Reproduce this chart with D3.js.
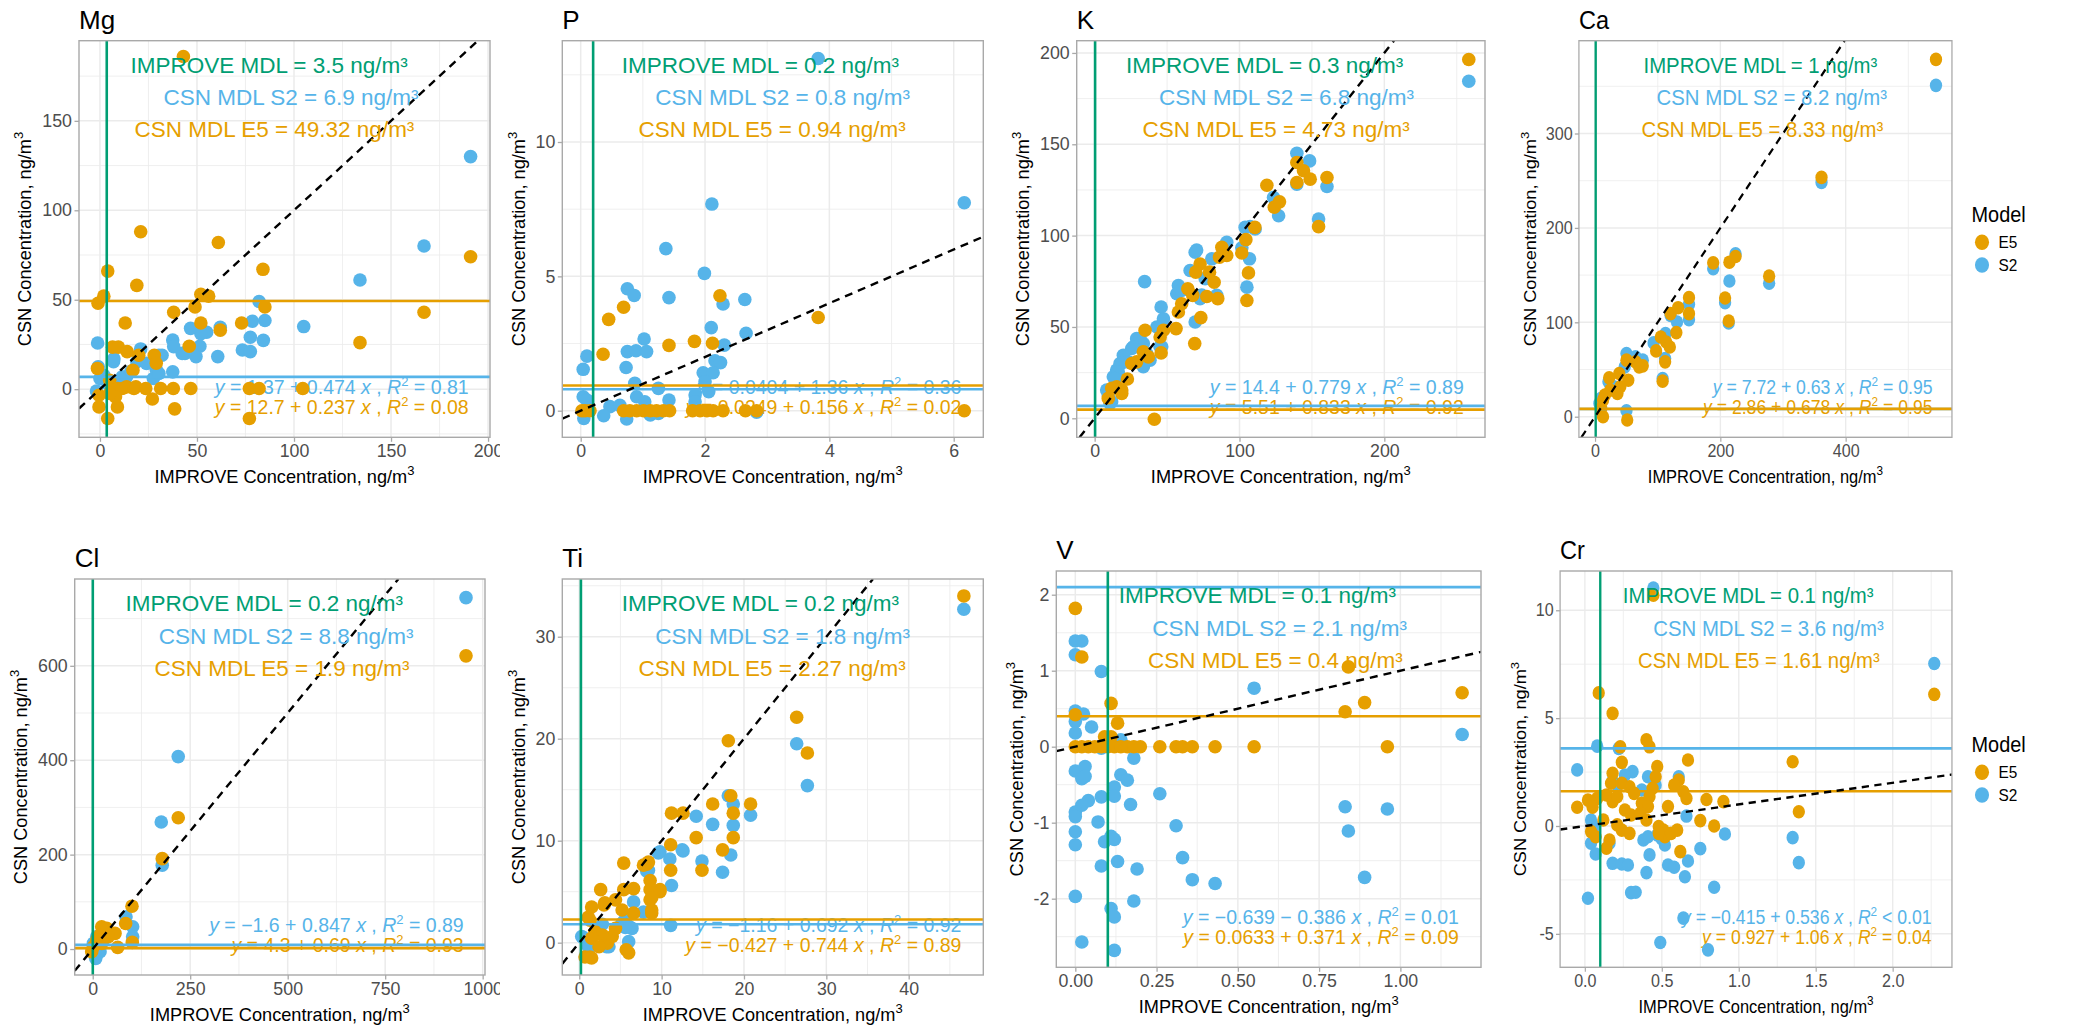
<!DOCTYPE html>
<html>
<head>
<meta charset="utf-8">
<script src="https://cdn.jsdelivr.net/npm/d3@7"></script>
<style>
  body { margin: 0; background: #ffffff; }
  svg { display: block; }
  text { font-family: "Liberation Sans", Arial, Helvetica, sans-serif; }
</style>
</head>
<body>
<svg id="chart" width="2092" height="1025"></svg>
<script>
// ---------------- data ----------------
const elements = ["Mg", "P", "K", "Ca", "Cl", "Ti", "V", "Cr"];
const models = ["E5", "S2"];

// method detection limits, ng/m3
const improveMdl = [3.5, 0.2, 0.3, 1, 0.2, 0.2, 0.1, 0.1];
const s2Mdl = [6.9, 0.8, 6.8, 8.2, 8.8, 1.8, 2.1, 3.6];
const e5Mdl = [49.32, 0.94, 4.73, 8.33, 1.9, 2.27, 0.4, 1.61];

// fitted lines, printed as y = a + b x
const s2Intercept = [1.37, 0.0404, 14.4, 7.72, -1.6, -1.16, -0.639, -0.415];
const s2Slope = [0.474, 1.36, 0.779, 0.63, 0.847, 0.692, -0.386, 0.536];
const s2R2 = ["= 0.81", "= 0.36", "= 0.89", "= 0.95", "= 0.89", "= 0.92", "= 0.01", "< 0.01"];
const e5Intercept = [12.7, 0.0249, 5.51, 2.86, 4.3, -0.427, 0.0633, 0.927];
const e5Slope = [0.237, 0.156, 0.833, 0.678, 0.69, 0.744, 0.371, 1.06];
const e5R2 = ["= 0.08", "= 0.02", "= 0.92", "= 0.95", "= 0.93", "= 0.89", "= 0.09", "= 0.04"];

// axis ticks
const xTicks = [
  [0, 50, 100, 150, 200], [0, 2, 4, 6], [0, 100, 200], [0, 200, 400],
  [0, 250, 500, 750, 1000], [0, 10, 20, 30, 40], [0, 0.25, 0.5, 0.75, 1], [0, 0.5, 1, 1.5, 2]
];
const yTicks = [
  [0, 50, 100, 150], [0, 5, 10], [0, 50, 100, 150, 200], [0, 100, 200, 300],
  [0, 200, 400, 600], [0, 10, 20, 30], [-2, -1, 0, 1, 2], [-5, 0, 5, 10]
];
const xTickDigits = [0, 0, 0, 0, 0, 0, 2, 1];

// paired observations [IMPROVE, CSN]
const mgS2 = [[191,130],[167,80],[134,61],[105,35],[82,49],[78.5,38],[85,38.4],[77.5,29],[84.2,27.3],[73.4,21.9],[77.5,21],[60.7,18.2],[62,34.6],[55,31.8],[52,31],[46.7,34],[51.5,24],[49.5,18.2],[43.8,20],[42.4,20],[37.5,27.5],[38,23.8],[32,19],[30.4,19],[37.5,9.7],[27.5,6],[29,11],[30.4,8.8],[-1.2,25.8],[21,22.5],[-0.9,12.5],[7,15.4],[7.2,17],[0,6],[2,7.8],[-1.8,-1],[11.5,6.9],[13.7,6.9],[19,15.4],[24,14.4],[16,10],[4,3],[9,2]];
const mgE5 = [[43,186],[21,88],[61,82],[84,67],[4,66],[19,58],[167,43],[191,74],[134,26],[-1,48],[2,52],[52,53],[56,52],[49,46],[38,43],[85,46],[13,37],[52,37],[62,33],[73,37],[46,24],[6.5,23.5],[9.5,23.5],[14,21],[20,19],[28,19],[29,14.5],[-1.3,11.6],[17,10.6],[5,5],[6.3,0.4],[9,0.4],[11.5,0.4],[13.7,1.3],[17.5,0.4],[18.5,1.3],[23.6,0.4],[31.3,0.4],[37.8,0.4],[46.8,0.4],[77,0.4],[82,0.4],[104.5,0.4],[-0.5,-3.4],[-0.5,-9.9],[9,-9.9],[8,-4.3],[4,-16.4],[27,-5.5],[38.5,-11],[77,-16.4],[5,-2.4]];

const pS2 = [[3.82,13.11],[2.11,7.69],[6.17,7.74],[1.37,6.03],[1.99,5.11],[0.75,4.54],[0.86,4.29],[1.42,4.21],[2.64,4.14],[2.29,3.97],[2.10,3.09],[2.66,2.88],[1.02,2.67],[0.75,2.2],[0.89,2.23],[1.06,2.2],[2.31,2.44],[0.10,2.03],[0.04,1.54],[0.73,1.61],[2.16,1.86],[2.25,1.79],[1.97,1.41],[2.13,1.41],[2.0,1.08],[2.06,0.71],[0.87,1.02],[0.9,0.52],[1.25,0.83],[0.04,0.52],[0.1,0.4],[1.42,0.4],[1.84,0.58],[1.84,0.33],[0.47,0.15],[0.37,-0.19],[0.05,-0.29],[0.74,-0.31],[1.12,-0.16],[2.83,-0.06],[1.03,0.33],[0.63,0.2],[1.25,-0.1]];
const pE5 = [[2.24,4.28],[0.69,3.85],[0.45,3.4],[3.82,3.47],[0.36,2.1],[1.42,2.43],[1.83,2.58],[2.12,2.51],[0.02,0],[0.07,0],[0.15,0],[0.69,0],[0.79,0],[0.9,0],[1.01,0],[1.12,0],[1.22,0],[1.33,0],[1.43,0],[1.8,0],[1.92,0],[2.03,0],[2.13,0],[2.29,0],[2.65,0],[2.83,0],[6.17,0]];

const kS2 = [[258.3,184.5],[139.6,145.1],[148.4,140.9],[139.6,128.2],[160.4,126.9],[154.6,109.1],[127,110.9],[123.5,120.9],[103.9,104.5],[110.8,103.6],[101.6,93.3],[106.9,87.3],[105.1,71.8],[91.2,96.4],[80.9,87.3],[69.4,90.9],[65.9,80.9],[76.3,76.4],[72.8,65.5],[84.3,67.3],[57.8,72.7],[56.7,68.2],[34.5,74.8],[45.9,60.9],[47.5,54.5],[69.4,52.7],[42.9,50],[29,43.6],[25.6,38.2],[33.6,40.9],[35.9,35.5],[38.2,31.8],[33.6,28.2],[46.3,39.1],[19.8,34.5],[17.5,30],[15.2,26.4],[12.9,22.7],[8.3,15.5],[10.6,8.2],[23.3,30.9],[70.4,92.1],[73.9,67.5],[31.3,43.8],[26.7,39.2],[45.1,39.2],[18.6,30.1],[16.3,25.4],[14,21.8],[9.4,12.8],[11.7,9.1],[33.6,29.2],[107.3,104.9],[60,70]];
const kE5 = [[258.3,196.4],[139.6,140],[144.2,135.5],[148.8,130.9],[139.6,129.1],[160.4,131.8],[154.6,104.9],[118.9,127.6],[124,115.5],[127.6,118.5],[104.4,97.8],[110.6,104.5],[101.6,90.5],[106.2,79.6],[105.1,64.5],[87.8,93.6],[91.2,89.1],[86.2,88.2],[72.8,84.5],[69.8,80],[79.3,80],[82.5,74.5],[77.4,66.7],[85,65.5],[64.3,70.9],[67.7,67.3],[73.3,55.1],[60.1,62.7],[57.8,58.2],[56.2,49.1],[69.1,40.9],[34.8,48.2],[47.5,48.2],[45.2,44.5],[33.6,36.4],[37.1,33.6],[45.9,35.8],[25.6,30],[29,30.9],[22.6,21.5],[15.2,17.3],[11.8,16.4],[18.7,15.5],[18.7,13.6],[9.4,10.9],[41.2,-0.5]];

const caS2 = [[544.1,351],[361.4,248.2],[188.5,156.7],[224.2,172.5],[214.4,143.7],[277.8,141.5],[207.5,120.8],[213.3,99.3],[149.9,119],[149.9,102.8],[120.5,107.4],[130.8,100.4],[93.4,78.2],[112.4,88],[111.8,61.6],[107.8,40.5],[50.1,66.9],[64.6,63.4],[76.1,59.9],[21.3,37],[9.8,19.4],[6.9,14.1],[50.1,6.3],[47.3,52.8],[30,31.7]];
const caE5 = [[544.1,378.5],[361.4,253.5],[188.5,163],[214.4,163.7],[224.2,169.7],[277.8,148.9],[207.5,125.7],[213.3,101.4],[149.9,126.1],[149.9,109.2],[120.5,109.2],[132.6,115.5],[129.7,89.1],[104.9,84.5],[113.5,79.2],[119.3,73.9],[97.4,69.7],[111.8,58.1],[107.8,37.7],[76.1,53.9],[64.6,58.1],[70.3,52.8],[50.1,59.9],[22.5,41.2],[38.6,45.8],[53,38.7],[40.3,31.7],[35.7,24.6],[24.2,28.2],[15.6,22.9],[12.7,17.6],[9.8,8.8],[12.7,0],[51.3,-3.5]];

const clS2 = [[957.3,744.4],[219.3,407.7],[175.8,269],[178.3,177.5],[85.3,68.3],[102.4,47.2],[102.4,26],[7.7,-19.7],[1.7,12],[18.8,-5.6],[10.2,26],[27.3,19]];
const clE5 = [[957.3,621.1],[219.3,278.2],[178.3,191.5],[100.7,90.8],[84.5,54.2],[101.5,14.1],[64,3.5],[57.2,33.1],[35.8,43.7],[23,47.2],[18.8,29.6],[10.2,19],[1.7,4.9],[-2.6,-5.6],[23,12],[40.1,26]];

const tiS2 = [[46.7,32.7],[26.4,19.5],[27.7,15.4],[18.1,14.4],[18.7,13.6],[18.7,11.5],[18.4,8.6],[20.8,12.5],[16.2,11.6],[14.2,12.4],[12.6,9],[9.8,8.9],[11,8.2],[14.9,8],[17.4,6.9],[11.2,5.6],[8.2,7],[11.1,1.7],[7.8,3],[6.6,4],[6.4,1.4],[6,0.1],[5.5,2.2],[3.3,-0.4],[0.5,0.5],[1.3,-0.4],[9.6,8.8],[12.5,9.1],[6,1.6],[5.2,1.9],[5.6,1.5],[2.8,1.8],[0.3,0.6],[1.1,-0.4],[3.6,-0.4],[8.4,7.1]];
const tiE5 = [[46.7,34],[26.4,22.1],[27.7,18.6],[18.1,19.8],[18.4,14.4],[18.7,12.7],[18.7,10.3],[20.8,13.6],[16.2,13.6],[11.2,12.7],[12.6,12.7],[14.2,10.3],[17.4,9.1],[14.9,7.1],[11.1,9.6],[11.1,7.1],[8.2,7.7],[8.6,6.1],[5.4,7.8],[8.8,5.2],[8.6,4.2],[8.8,2.9],[9.8,5.2],[6.6,5.3],[5.4,5.2],[2.6,5.2],[1.5,3.5],[3.1,3.9],[1.1,2.5],[5.7,-0.7],[0.7,-1.4],[1.3,-1.4],[7.8,7.6],[8.4,7.9],[8.6,5.2],[9.8,5],[8.8,4.4],[8.8,3.2],[3,3.7],[4.4,4.2],[5.2,3.2],[6.6,2.9],[1.3,2.2],[1.9,1.1],[2.8,0.75],[1.5,0.43],[3.4,-0.06],[2.4,-0.4],[4,0.6],[4.4,1.4],[6,-1],[1.5,-1.5]];

const vS2 = [[0,1.39],[0.02,1.39],[0,1.21],[0.08,0.99],[0.55,0.77],[0,0.47],[0.025,0.43],[0,0.33],[0.05,0.26],[0,0.18],[1.19,0.16],[0.14,0.09],[0.08,-0.02],[0.18,-0.15],[0,-0.32],[0.03,-0.26],[0.02,-0.42],[0.03,-0.39],[0.14,-0.37],[0.16,-0.44],[0.12,-0.53],[0.12,-0.65],[0.08,-0.66],[0.04,-0.71],[0.02,-0.77],[0,-0.86],[0,-0.92],[0.17,-0.76],[0.26,-0.62],[0.07,-0.99],[0.31,-1.04],[0,-1.12],[0,-1.29],[0.09,-1.25],[0.11,-1.18],[0.12,-1.22],[0.13,-1.51],[0.08,-1.57],[0.19,-1.61],[0.33,-1.46],[0.36,-1.75],[0.43,-1.8],[0.83,-0.79],[0.96,-0.82],[0.84,-1.11],[0.89,-1.72],[0,-1.97],[0.18,-2.03],[0.11,-2.13],[0.12,-2.24],[0.02,-2.57],[0.12,-2.68]];
const vE5 = [[0,1.82],[0.02,1.18],[0.84,1.05],[0.83,0.46],[0.89,0.58],[1.19,0.71],[0.11,0.57],[0.13,0.31],[0,0.42],[0.09,0.13],[0.11,0.13],[0,0],[0.02,0],[0.04,0],[0.06,0],[0.08,0],[0.10,0],[0.12,0],[0.14,0],[0.16,0],[0.18,0],[0.2,0],[0.26,0],[0.31,0],[0.33,0],[0.36,0],[0.43,0],[0.55,0],[0.96,0]];

const crS2 = [[0.445,11.03],[2.27,7.53],[0.08,3.7],[0.22,3.6],[-0.05,2.6],[0.31,2.52],[0.26,2.36],[0.41,2.28],[0.46,1.9],[0.61,2.28],[0.37,1.67],[0.18,2.1],[0.21,1.9],[0.66,0.46],[0.04,0.28],[0.06,-0.03],[0.04,-0.8],[0.07,-1.3],[0.16,-0.8],[0.91,-0.37],[1.35,-0.54],[1.39,-1.7],[0.38,-0.65],[0.41,-0.5],[0.42,-1.34],[0.52,-0.88],[0.75,-1.05],[0.67,-1.62],[0.18,-1.73],[0.24,-1.76],[0.28,-1.81],[0.54,-1.81],[0.58,-1.91],[0.40,-2.16],[0.65,-2.35],[0.84,-2.84],[0.30,-3.09],[0.33,-3.07],[0.02,-3.35],[0.64,-4.27],[0.49,-5.4],[0.80,-5.74],[0.47,-0.42],[0.5,-0.6]];
const crE5 = [[0.445,10.7],[0.09,6.17],[0.18,5.22],[2.27,6.1],[1.35,2.98],[1.39,0.66],[0.40,3.99],[0.42,3.67],[0.23,3.67],[0.24,2.95],[0.67,3.06],[0.47,2.75],[0.18,2.44],[0.17,1.98],[0.46,2.28],[0.44,1.75],[0.61,2.13],[0.58,1.9],[0.64,1.59],[0.66,1.28],[0.24,1.98],[0.29,1.82],[0.32,1.51],[0.14,1.44],[0.18,1.13],[0.21,1.36],[0.08,1.28],[0.04,1.13],[0.02,1.2],[-0.05,0.87],[0.05,0.87],[0.37,1.05],[0.42,1.36],[0.41,0.9],[0.54,0.9],[0.79,1.23],[0.90,1.13],[0.26,0.74],[0.30,0.51],[0.12,0.28],[0.40,0.28],[0.36,0.59],[0.75,0.25],[0.84,0],[0.21,0.05],[0.24,-0.19],[0.04,-0.26],[0.07,-0.5],[0.16,-0.65],[0.14,-1.03],[0.29,-0.34],[0.48,-0.03],[0.51,-0.19],[0.52,-0.5],[0.48,-0.34],[0.56,-0.34],[0.60,-0.19],[0.62,-1.19]];

const s2Data = [mgS2, pS2, kS2, caS2, clS2, tiS2, vS2, crS2];
const e5Data = [mgE5, pE5, kE5, caE5, clE5, tiE5, vE5, crE5];

// ---------------- layout ----------------
// plot rectangles (px) and axis ranges for each panel; cw = right edge of the panel's own canvas.
// The right-hand column (with its legend) is drawn narrower: its own coordinates are
// squeezed horizontally by SQUEEZE about x = SQUEEZE_AT.
const SQUEEZE = 0.905, SQUEEZE_AT = 1500;
const frames = [
  { l: 79,     r: 490,    t: 40.7, b: 437.3, xd: [-10.8, 201],   yd: [-26.9, 194.8], cw: 500 },
  { l: 562.3,  r: 983.3,  t: 40.7, b: 437.3, xd: [-0.296, 6.476], yd: [-0.99, 13.77], cw: 3000 },
  { l: 1076.7, r: 1485,   t: 40.7, b: 437.3, xd: [-12.4, 269.5], yd: [-10.4, 206.7], cw: 3000 },
  { l: 1587.2, r: 1999.4, t: 40.7, b: 437.3, xd: [-25.8, 569.6], yd: [-21.8, 398.3], cw: 3000, squeeze: true },
  { l: 74.7,   r: 485,    t: 579,  b: 975,   xd: [-46.2, 1006],  yd: [-55, 783.9], cw: 500 },
  { l: 562.3,  r: 983.3,  t: 579,  b: 975,   xd: [-2.06, 49.06], yd: [-3.17, 35.66], cw: 3000 },
  { l: 1056.3, r: 1481,   t: 571,  b: 967.3, xd: [-0.0585, 1.248], yd: [-2.903, 2.312], cw: 3000 },
  { l: 1566.4, r: 1999.4, t: 571,  b: 967.3, xd: [-0.161, 2.385], yd: [-6.55, 11.82], cw: 3000, squeeze: true }
];
const legends = [
  { x: 2021, y: 221.7, keyY: [242.3, 265] },
  { x: 2021, y: 751.7, keyY: [772.3, 795] }
];

const COL = { E5: "#E69F00", S2: "#56B4E9", improve: "#009E73" };
const GRID = "#EBEBEB";
const BORDER = "#A9A9A9";
const TICKCOL = "#A9A9A9";
const TICKTXT = "#4D4D4D";
const POINT_R = 6.8;
const KEY_R = 7.8;

const svg = d3.select("#chart");
const minus = s => s.replace(/-/g, "\u2212");
const squeezeTransform = `translate(${SQUEEZE_AT * (1 - SQUEEZE)},0) scale(${SQUEEZE},1)`;

function minorBreaks(majors, dom) {
  const step = majors[1] - majors[0];
  const out = [];
  for (let v = majors[0] - step / 2; v <= dom[1] + 1e-9; v += step) {
    if (v >= dom[0] && v <= dom[1]) out.push(v);
  }
  let v = majors[0] - step / 2 - step;
  while (v >= dom[0]) { out.push(v); v -= step; }
  return out;
}

function majorsIn(majors, dom) {
  const step = majors[1] - majors[0];
  const out = majors.slice();
  let v = majors[majors.length - 1] + step;
  while (v <= dom[1]) { out.push(v); v += step; }
  v = majors[0] - step;
  while (v >= dom[0]) { out.push(v); v -= step; }
  return out;
}

elements.forEach((el, i) => {
  const f = frames[i];
  const w = f.r - f.l, h = f.b - f.t;
  const x = d3.scaleLinear().domain(f.xd).range([f.l, f.r]);
  const y = d3.scaleLinear().domain(f.yd).range([f.b, f.t]);

  const outer = svg.append("g").attr("transform", f.squeeze ? squeezeTransform : null);

  const clipId = "clip-" + el;
  outer.append("clipPath").attr("id", clipId)
    .append("rect").attr("x", f.l).attr("y", f.t).attr("width", w).attr("height", h);
  const canvasId = "canvas-" + el;
  outer.append("clipPath").attr("id", canvasId)
    .append("rect").attr("x", 0).attr("y", 0).attr("width", f.cw).attr("height", 1025);

  const g = outer.append("g").attr("class", "panel-" + el).attr("clip-path", `url(#${canvasId})`);

  // grid
  const grid = g.append("g");
  minorBreaks(xTicks[i], f.xd).forEach(v => grid.append("line")
    .attr("x1", x(v)).attr("x2", x(v)).attr("y1", f.t).attr("y2", f.b)
    .attr("stroke", GRID).attr("stroke-width", 0.8));
  minorBreaks(yTicks[i], f.yd).forEach(v => grid.append("line")
    .attr("y1", y(v)).attr("y2", y(v)).attr("x1", f.l).attr("x2", f.r)
    .attr("stroke", GRID).attr("stroke-width", 0.8));
  majorsIn(xTicks[i], f.xd).forEach(v => grid.append("line")
    .attr("x1", x(v)).attr("x2", x(v)).attr("y1", f.t).attr("y2", f.b)
    .attr("stroke", GRID).attr("stroke-width", 1.5));
  majorsIn(yTicks[i], f.yd).forEach(v => grid.append("line")
    .attr("y1", y(v)).attr("y2", y(v)).attr("x1", f.l).attr("x2", f.r)
    .attr("stroke", GRID).attr("stroke-width", 1.5));

  // fitted-line equations (sit beneath the points)
  const eqX = f.l + 0.948 * w;
  const eqs = [
    { a: s2Intercept[i], b: s2Slope[i], r2: s2R2[i], c: COL.S2, yy: f.t + 0.892 * h },
    { a: e5Intercept[i], b: e5Slope[i], r2: e5R2[i], c: COL.E5, yy: f.t + 0.942 * h }
  ];
  eqs.forEach(e => {
    const t = g.append("text").attr("x", eqX).attr("y", e.yy)
      .attr("text-anchor", "end").attr("fill", e.c).attr("font-size", 19.5);
    t.append("tspan").attr("font-style", "italic").text("y");
    const slopeTxt = e.b < 0 ? " \u2212 " + String(-e.b) : " + " + String(e.b);
    t.append("tspan").text(" = " + minus(String(e.a)) + slopeTxt + " ");
    t.append("tspan").attr("font-style", "italic").text("x");
    t.append("tspan").text(" ,   ");
    t.append("tspan").attr("font-style", "italic").text("R");
    t.append("tspan").attr("font-size", 13).attr("dy", -8.5).text("2");
    t.append("tspan").attr("dy", 8.5).text(" " + e.r2);
  });

  // points: S2 first, E5 drawn over
  const pts = g.append("g").attr("clip-path", `url(#${clipId})`);
  pts.selectAll("circle.s2").data(s2Data[i]).join("circle").attr("class", "s2")
    .attr("cx", d => x(d[0])).attr("cy", d => y(d[1])).attr("r", POINT_R).attr("fill", COL.S2);
  pts.selectAll("circle.e5").data(e5Data[i]).join("circle").attr("class", "e5")
    .attr("cx", d => x(d[0])).attr("cy", d => y(d[1])).attr("r", POINT_R).attr("fill", COL.E5);

  // detection-limit lines and the 1:1 line
  const lines = g.append("g").attr("clip-path", `url(#${clipId})`);
  lines.append("line").attr("x1", f.l).attr("x2", f.r)
    .attr("y1", y(s2Mdl[i])).attr("y2", y(s2Mdl[i]))
    .attr("stroke", COL.S2).attr("stroke-width", 2.6);
  lines.append("line").attr("x1", f.l).attr("x2", f.r)
    .attr("y1", y(e5Mdl[i])).attr("y2", y(e5Mdl[i]))
    .attr("stroke", COL.E5).attr("stroke-width", 2.6);
  lines.append("line").attr("y1", f.t).attr("y2", f.b)
    .attr("x1", x(improveMdl[i])).attr("x2", x(improveMdl[i]))
    .attr("stroke", COL.improve).attr("stroke-width", 2.6);
  const lo = Math.max(f.xd[0], f.yd[0]), hi = Math.min(f.xd[1], f.yd[1]);
  lines.append("line").attr("x1", x(lo)).attr("y1", y(lo)).attr("x2", x(hi)).attr("y2", y(hi))
    .attr("stroke", "#000").attr("stroke-width", 2.4).attr("stroke-dasharray", "8,6");

  // border
  g.append("rect").attr("x", f.l).attr("y", f.t).attr("width", w).attr("height", h)
    .attr("fill", "none").attr("stroke", BORDER).attr("stroke-width", 1.4);

  // axes
  const fmtX = d => d3.format("." + xTickDigits[i] + "f")(d);
  const xAxis = g.append("g").attr("transform", `translate(0,${f.b})`)
    .call(d3.axisBottom(x).tickValues(xTicks[i]).tickFormat(fmtX).tickSize(4.5).tickPadding(3));
  const yAxis = g.append("g").attr("transform", `translate(${f.l},0)`)
    .call(d3.axisLeft(y).tickValues(yTicks[i]).tickFormat(d => String(d)).tickSize(4.5).tickPadding(2.5));
  [xAxis, yAxis].forEach(a => {
    a.select(".domain").remove();
    a.selectAll(".tick line").attr("stroke", TICKCOL).attr("stroke-width", 1.3);
    a.selectAll(".tick text").attr("fill", TICKTXT).attr("font-size", 17.8)
      .attr("font-family", '"Liberation Sans", Arial, sans-serif');
  });

  // measure widest y label for the axis title offset
  let maxW = 0;
  yAxis.selectAll(".tick text").each(function () { maxW = Math.max(maxW, this.getBBox().width); });

  const xt = g.append("text").attr("x", (f.l + f.r) / 2).attr("y", f.b + 45.5)
    .attr("text-anchor", "middle").attr("font-size", 18.2).attr("fill", "#000");
  xt.append("tspan").text("IMPROVE Concentration, ng/m");
  xt.append("tspan").attr("font-size", 13).attr("dy", -8).text("3");

  const ytX = f.l - 7 - maxW - 10.8;
  const yt = g.append("text").attr("transform", `translate(${ytX},${(f.t + f.b) / 2}) rotate(-90)`)
    .attr("text-anchor", "middle").attr("font-size", 18.2).attr("fill", "#000");
  yt.append("tspan").text("CSN Concentration, ng/m");
  yt.append("tspan").attr("font-size", 13).attr("dy", -8).text("3");

  // detection-limit annotations
  const notes = [
    { txt: `IMPROVE MDL = ${improveMdl[i]} ng/m\u00B3`, c: COL.improve, fx: 0.800, fy: 0.081 },
    { txt: `CSN MDL S2 = ${s2Mdl[i]} ng/m\u00B3`, c: COL.S2, fx: 0.826, fy: 0.163 },
    { txt: `CSN MDL E5 = ${e5Mdl[i]} ng/m\u00B3`, c: COL.E5, fx: 0.816, fy: 0.244 }
  ];
  notes.forEach(n => g.append("text").attr("x", f.l + n.fx * w).attr("y", f.t + n.fy * h)
    .attr("text-anchor", "end").attr("font-size", 22.5).attr("fill", n.c).text(n.txt));

  // panel title
  g.append("text").attr("x", f.l).attr("y", f.t - 11.8).attr("font-size", 26)
    .attr("fill", "#000").text(el);
});

// legends (part of the right-hand column)
legends.forEach(L => {
  const g = svg.append("g").attr("transform", squeezeTransform);
  g.append("text").attr("x", L.x).attr("y", L.y).attr("font-size", 22).attr("fill", "#000").text("Model");
  models.forEach((m, k) => {
    g.append("circle").attr("cx", L.x + 11.6).attr("cy", L.keyY[k]).attr("r", KEY_R).attr("fill", COL[m]);
    g.append("text").attr("x", L.x + 29.8).attr("y", L.keyY[k]).attr("dy", "0.36em")
      .attr("font-size", 17).attr("fill", "#000").text(m);
  });
});
</script>
</body>
</html>
